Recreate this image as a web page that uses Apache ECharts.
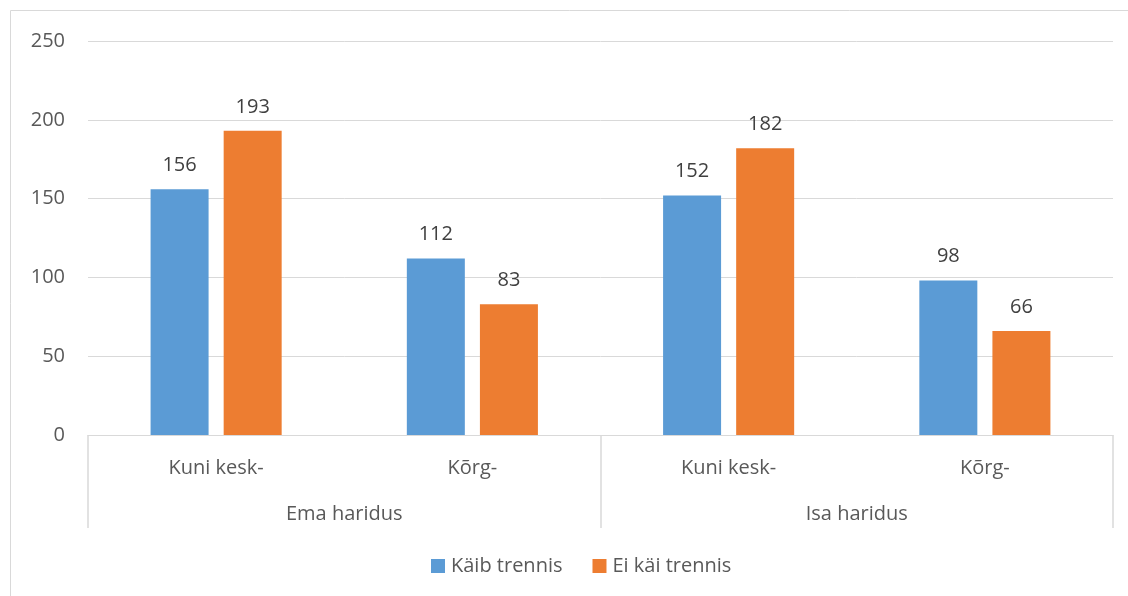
<!DOCTYPE html>
<html><head><meta charset="utf-8">
<script src="https://cdn.jsdelivr.net/npm/echarts@6/dist/echarts.min.js"></script>
<style>html,body{margin:0;padding:0;background:#fff;}#c{width:1128px;height:596px;}</style>
</head><body><div id="c"></div>
<script>
const categories = ['Kuni kesk-', 'Kõrg-', 'Kuni kesk-', 'Kõrg-'];
const groups = ['Ema haridus', 'Isa haridus'];
const seriesNames = ['Käib trennis', 'Ei käi trennis'];
const kaibTrennis = [156, 112, 152, 98];
const eiKaiTrennis = [193, 83, 182, 66];
const yTicks = [0, 50, 100, 150, 200, 250];

const font = '"Open Sans", "Liberation Sans", sans-serif';
const fs = 20;
const chart = echarts.init(document.getElementById('c'), null, {renderer: 'canvas'});
chart.setOption({
  animation: false,
  textStyle: {fontFamily: font},
  graphic: [{type: 'rect', shape: {x: 10.5, y: 10.5, width: 1140, height: 620}, style: {fill: 'none', stroke: '#d9d9d9', lineWidth: 1}, silent: true}],
  grid: {left: 88, right: 15, top: 41, bottom: 161, containLabel: false},
  legend: {
    bottom: 15, left: 426, itemWidth: 14, itemHeight: 14, itemGap: 30,
    icon: 'rect',
    textStyle: {fontSize: fs, color: '#595959', fontFamily: font, padding: [0, 0, 0, 1]},
    data: seriesNames
  },
  xAxis: [
    {type: 'category', data: categories, position: 'bottom',
     axisLine: {show: true, lineStyle: {color: '#d9d9d9', width: 1}},
     axisTick: {show: false},
     axisLabel: {fontSize: fs, color: '#595959', margin: 23, fontFamily: font}},
    {type: 'category', data: groups, position: 'bottom', gridIndex: 0,
     axisLine: {show: false},
     axisTick: {show: true, length: 93, lineStyle: {color: '#d9d9d9', width: 1.5}},
     axisLabel: {fontSize: fs, color: '#595959', margin: 69, fontFamily: font}}
  ],
  yAxis: {
    type: 'value', min: 0, max: 250, interval: 50,
    axisLine: {show: false}, axisTick: {show: false},
    axisLabel: {fontSize: fs, color: '#595959', margin: 23, fontFamily: font,
      formatter: v => yTicks.includes(v) ? String(v) : ''},
    splitLine: {lineStyle: {color: '#d9d9d9', width: 1}}
  },
  series: [
    {name: seriesNames[0], type: 'bar', xAxisIndex: 0, data: kaibTrennis, barWidth: 58, barGap: '26%',
     itemStyle: {color: '#5b9bd5'},
     label: {show: true, position: 'top', distance: 14, fontSize: fs, color: '#404040', fontFamily: font}},
    {name: seriesNames[1], type: 'bar', xAxisIndex: 0, data: eiKaiTrennis, barWidth: 58, barGap: '26%',
     itemStyle: {color: '#ed7d31'},
     label: {show: true, position: 'top', distance: 14, fontSize: fs, color: '#404040', fontFamily: font}}
  ]
});
</script></body></html>
